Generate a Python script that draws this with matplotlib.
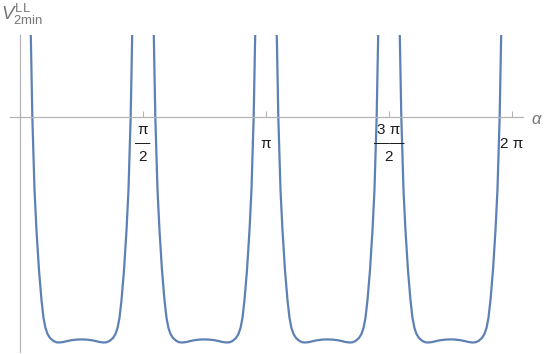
import numpy as np
import matplotlib
matplotlib.use("Agg")
import matplotlib.pyplot as plt

# one well of the potential (offset from the well centre in rad, value)
well_dx = [-0.664, -0.6475, -0.628, -0.600, -0.575, -0.543, -0.511, -0.485, -0.460, -0.434,
           -0.402, -0.358, -0.319, -0.281, -0.230, -0.179, -0.128, -0.064, 0.0,
           0.064, 0.128, 0.179, 0.230, 0.281, 0.319, 0.358, 0.402, 0.434, 0.460,
           0.485, 0.511, 0.543, 0.575, 0.600, 0.628, 0.6475, 0.664]
well_v = [1.32, 0.82, 0.0, -0.73, -1.13, -1.53, -1.83, -2.01, -2.11, -2.17,
          -2.21, -2.24, -2.253, -2.255, -2.25, -2.24, -2.232, -2.226, -2.224,
          -2.226, -2.232, -2.24, -2.25, -2.255, -2.253, -2.24, -2.21, -2.17, -2.11,
          -2.01, -1.83, -1.53, -1.13, -0.73, 0.0, 0.82, 1.32]
well_centers = [np.pi / 4, 3 * np.pi / 4, 5 * np.pi / 4, 7 * np.pi / 4]

tick_pos = [np.pi / 2, np.pi, 3 * np.pi / 2, 2 * np.pi]
tick_txt = ['π\n—\n2', 'π', '3 π\n——\n2', '2 π']

plt.rcParams['mathtext.fontset'] = 'custom'
plt.rcParams['mathtext.rm'] = 'Liberation Sans'
plt.rcParams['mathtext.it'] = 'Liberation Sans:italic'

W, H = 545, 354
fig = plt.figure(figsize=(W / 100, H / 100), dpi=100)
# axes box in pixels: x 10..523, y 35..352
ax = fig.add_axes([10 / W, 1 - 352 / H, 513 / W, 317 / H])
ax.set_xlim(-10 / 78.3, 503 / 78.3)
ax.set_ylim(-2.35, 0.82)

for c in well_centers:
    ax.plot([c + d for d in well_dx], well_v, color='#5e81b5', lw=1.6,
            solid_joinstyle='round')

axis_col = '#b4b4b4'
for s in ['top', 'right']:
    ax.spines[s].set_visible(False)
ax.spines['left'].set_position(('data', 0))
ax.spines['bottom'].set_position(('data', 0))
ax.spines['left'].set_color(axis_col)
ax.spines['bottom'].set_color(axis_col)
ax.spines['left'].set_linewidth(0.9)
ax.spines['bottom'].set_linewidth(0.9)

ax.set_yticks([])
ax.set_xticks(tick_pos)
ax.set_xticklabels([])
ax.tick_params(axis='x', direction='in', length=4, color=axis_col, width=0.8)

for p, t in zip(tick_pos, tick_txt):
    ax.text(p, -0.265, t, ha='center', va='center', multialignment='center',
            fontsize=11, family='Liberation Sans', linespacing=0.95,
            color='#1a1a1a')

fig.text(531 / W, 1 - 119 / H, r'$\alpha$', fontsize=12, color='#777777',
         ha='left', va='center')
fig.text(1 / W, 1 - 14 / H, r'$V_{\mathrm{2min}}^{\mathrm{LL}}$', fontsize=13.5,
         color='#777777', ha='left', va='center')

fig.savefig('out.png', dpi=100)
